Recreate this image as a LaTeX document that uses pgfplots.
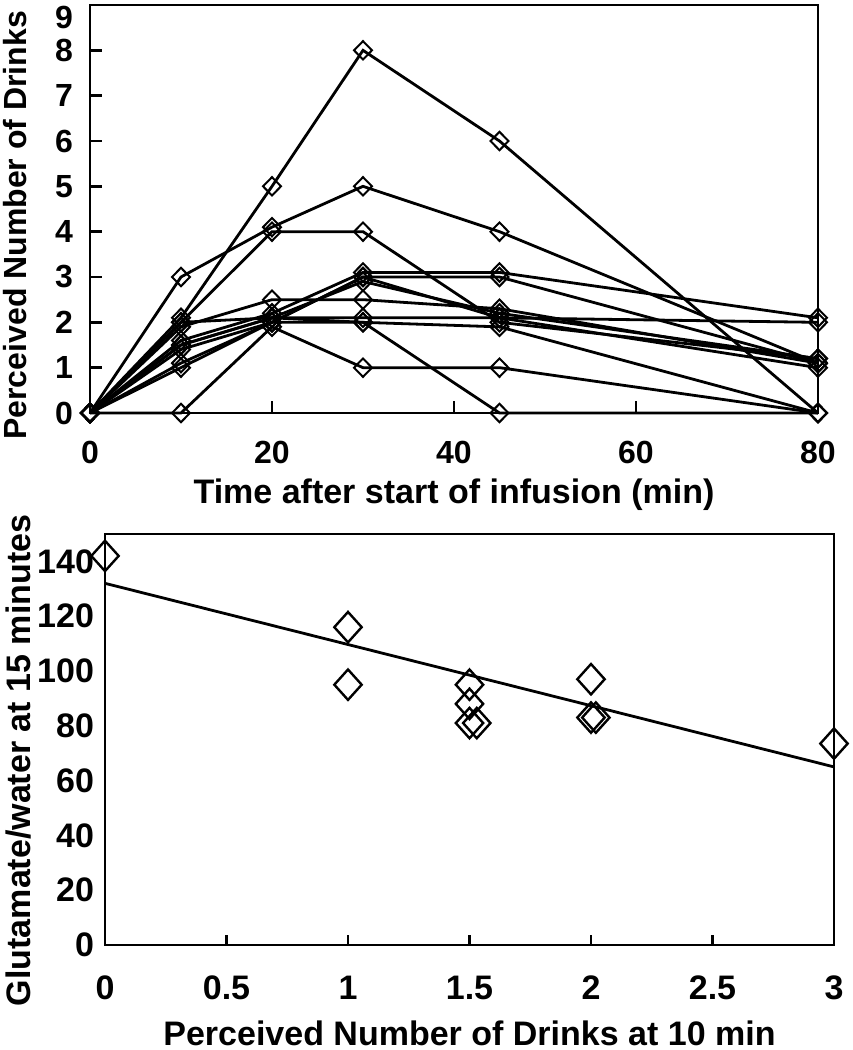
\documentclass[border=0pt]{standalone}
\usepackage{fontspec}
\setmainfont{Liberation Sans}
\usepackage{pgfplots}
\pgfplotsset{compat=1.18}
\begin{document}
\begin{tikzpicture}
\pgfplotsset{
  common/.style={
    scale only axis, anchor=south west, clip=false,
    axis line style={line width=1.4pt},
    tick style={line width=1.2pt, black},
    tick align=inside, xtick pos=bottom, ytick pos=left,
    /pgf/number format/assume math mode=true,
  },
  subj/.style={black, line width=1.4pt, mark=diamond, mark size=4.6pt,
    mark options={fill=white, line width=1pt, xscale=1.3, solid}},
}
% ---------- top panel ----------
\begin{axis}[common,
  at={(45pt,318.5pt)}, width=364pt, height=204pt,
  xmin=0, xmax=80, ymin=0, ymax=9,
  xtick={0,20,40,60,80}, ytick={0,1,2,3,4,5,6,7,8},
  extra y ticks={9},
  extra y tick style={yticklabel style={yshift=-6pt}},
  tick label style={font=\fontsize{16}{19}\selectfont\bfseries},
  major tick length=6pt,
  xticklabel style={yshift=-10.5pt},
  yticklabel style={xshift=-5pt},
  xlabel={Time after start of infusion (min)},
  ylabel={Perceived Number of Drinks},
  every axis x label/.style={at={(axis description cs:0.5,-0.201)}, anchor=center,
     font=\fontsize{17}{20}\selectfont\bfseries},
  every axis y label/.style={at={(axis description cs:-0.103,0.46)}, rotate=90, anchor=center,
     font=\fontsize{16}{19}\selectfont\bfseries},
]
\addplot[subj] coordinates {(0,0) (10,2.1) (20,5) (30,8) (45,6) (80,0)};
\addplot[subj] coordinates {(0,0) (10,3) (20,4.1) (30,5) (45,4) (80,1.1)};
\addplot[subj] coordinates {(0,0) (10,2) (20,4) (30,4) (45,2) (80,1.2)};
\addplot[subj] coordinates {(0,0) (10,0) (20,1.9) (30,1) (45,1) (80,0)};
\addplot[subj] coordinates {(0,0) (10,2) (20,2.1) (30,2) (45,0) (80,0)};
\addplot[subj] coordinates {(0,0) (10,1.5) (20,2.1) (30,2.1) (45,2.1) (80,2.0)};
\addplot[subj] coordinates {(0,0) (10,1.6) (20,2.2) (30,3.1) (45,3.1) (80,2.1)};
\addplot[subj] coordinates {(0,0) (10,1.0) (20,2.0) (30,3.0) (45,3.0) (80,1.1)};
\addplot[subj] coordinates {(0,0) (10,1.9) (20,2.5) (30,2.5) (45,2.3) (80,1.1)};
\addplot[subj] coordinates {(0,0) (10,1.1) (20,2.0) (30,3.0) (45,2.1) (80,1.0)};
\addplot[subj] coordinates {(0,0) (10,1.4) (20,2.0) (30,2.0) (45,1.9) (80,0)};
\addplot[subj] coordinates {(0,0) (10,1.5) (20,2.1) (30,2.9) (45,2.2) (80,1.2)};
\end{axis}
% ---------- bottom panel ----------
\begin{axis}[common,
  at={(52.5pt,52.5pt)}, width=364.5pt, height=205.5pt,
  xmin=0, xmax=3, ymin=0, ymax=150,
  xtick={0,0.5,1,1.5,2,2.5,3}, ytick={0,20,40,60,80,100,120,140},
  tick label style={font=\fontsize{17}{20}\selectfont\bfseries},
  ytick style={draw=none},
  major tick length=5pt,
  xticklabel style={yshift=-12pt},
  yticklabel style={xshift=-2pt},
  xlabel={Perceived Number of Drinks at 10 min},
  ylabel={Glutamate/water at 15 minutes},
  every axis x label/.style={at={(axis description cs:0.5,-0.214)}, anchor=center,
     font=\fontsize{17}{20}\selectfont\bfseries},
  every axis y label/.style={at={(axis description cs:-0.118,0.449)}, rotate=90, anchor=center,
     font=\fontsize{17}{20}\selectfont\bfseries},
]
\addplot[black, line width=1.4pt] coordinates {(0,132) (3,65)};
\addplot[only marks, mark=diamond, mark size=7.6pt,
  mark options={fill=none, line width=1.2pt, xscale=1.2}] coordinates {
  (0,142) (1,116) (1,95) (1.5,95) (1.5,88) (1.5,81) (1.53,81)
  (2,97) (2,83) (2.02,83) (3,73.5)};
\end{axis}
\pgfresetboundingbox
\useasboundingbox (0,0) rectangle (426pt,525pt);
\end{tikzpicture}
\end{document}
